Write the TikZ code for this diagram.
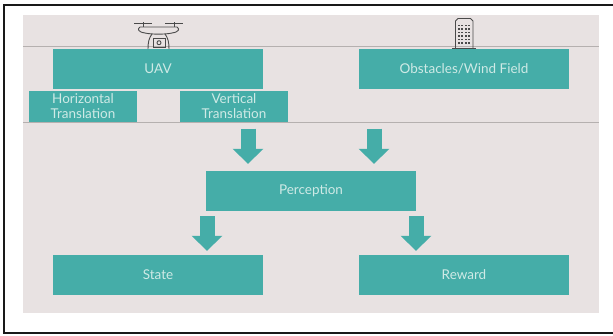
\documentclass[tikz,border=0pt]{standalone}
\usepackage{fontspec}
\setmainfont{Lato}
\usetikzlibrary{arrows.meta}
\definecolor{panelgrey}{HTML}{E8E2E2}
\definecolor{rulegrey}{HTML}{B5B0AF}
\definecolor{boxteal}{HTML}{45ADA8}
\definecolor{boxtext}{HTML}{CFEAE6}
\definecolor{icongrey}{HTML}{4A4A4A}
\tikzset{
  tealbox/.style={fill=boxteal,text=boxtext,inner sep=0pt,align=center,font=\fontsize{13.5}{15.5}\selectfont},
  bigbox/.style={tealbox,minimum width=210pt,minimum height=40pt},
  smallbox/.style={tealbox,minimum width=108pt,minimum height=31pt},
  bigarrow/.style={draw=boxteal,line width=15pt,-{Triangle[length=15pt,width=30pt,fill=boxteal]}},
  iconline/.style={draw=icongrey,line width=0.9pt},
}
\begin{document}
\begin{tikzpicture}[x=1pt,y=-1pt]
      \useasboundingbox (0,0) rectangle (613,335);
      % outer frame, open on the right
      \draw[line width=2pt,black!90] (613,4.5) -- (3.5,4.5) -- (3.5,332.5) -- (613,332.5);

      \path
      (311,164) node[fill=panelgrey,minimum width=576pt,minimum height=298pt,inner sep=0pt](panel) {}
      ;
      \draw[rulegrey,line width=1pt] (panel.west |- 0,46.5) -- (panel.east |- 0,46.5);
      \draw[rulegrey,line width=1pt] (panel.west |- 0,122) -- (panel.east |- 0,122);

      \path
      (158,68.5) node[bigbox](uav) {UAV}
      (464,68.5) node[bigbox](obstacles) {Obstacles/Wind Field}
      (83,106) node[smallbox](horizontal) {Horizontal\\Translation}
      (234,106) node[smallbox](vertical) {Vertical\\Translation}
      (311,191) node[bigbox](perception) {Perception}
      (158,275) node[bigbox](state) {State}
      (464,275) node[bigbox](reward) {Reward}
      ;

      \path
      (248,0) coordinate(leftin)
      (374,0) coordinate(rightin)
      (207,0) coordinate(leftout)
      (416,0) coordinate(rightout)
      ;
      \draw[bigarrow,shorten <=7pt,shorten >=7pt] (vertical.south -| leftin) -- (perception.north -| leftin);
      \draw[bigarrow,shorten <=40pt,shorten >=7pt] (obstacles.south -| rightin) -- (perception.north -| rightin);
      \draw[bigarrow,shorten <=5pt,shorten >=4pt] (perception.south -| leftout) -- (state.north -| leftout);
      \draw[bigarrow,shorten <=5pt,shorten >=4pt] (perception.south -| rightout) -- (reward.north -| rightout);

      % drone
      \draw[iconline] (134,23.7) -- (152,23.7) (165,23.7) -- (183,23.7);
      \draw[iconline] (143,22) -- (143,27) (174,22) -- (174,27);
      \draw[iconline] (140,27) -- (177,27)
        .. controls (180,29) and (179,32) .. (172,33)
        .. controls (166,34.5) and (151,34.5) .. (145,33)
        .. controls (138,32) and (137,29) .. (140,27);
      \draw[iconline] (152,34) .. controls (149,38) and (148,42) .. (148,49);
      \draw[iconline] (165,34) .. controls (168,38) and (169,42) .. (169,49);
      \draw[iconline] (153,38.5) rectangle (165,47);
      \draw[iconline] (159,42.7) circle (2pt);

      % building
      \draw[iconline] (455.5,48.5) -- (455.5,21) -- (458,18.5) -- (470.5,18.5) -- (473,21) -- (473,48.5);
      \draw[iconline] (452,48.5) -- (476,48.5);
      \foreach \col in {0,1,2,3}
        \foreach \row in {0,1,2,3,4,5}
          \fill[icongrey] (459+3.3*\col-0.9,25.5+3.5*\row-0.9) rectangle ++(1.8,1.8);
    \end{tikzpicture}
\end{document}
